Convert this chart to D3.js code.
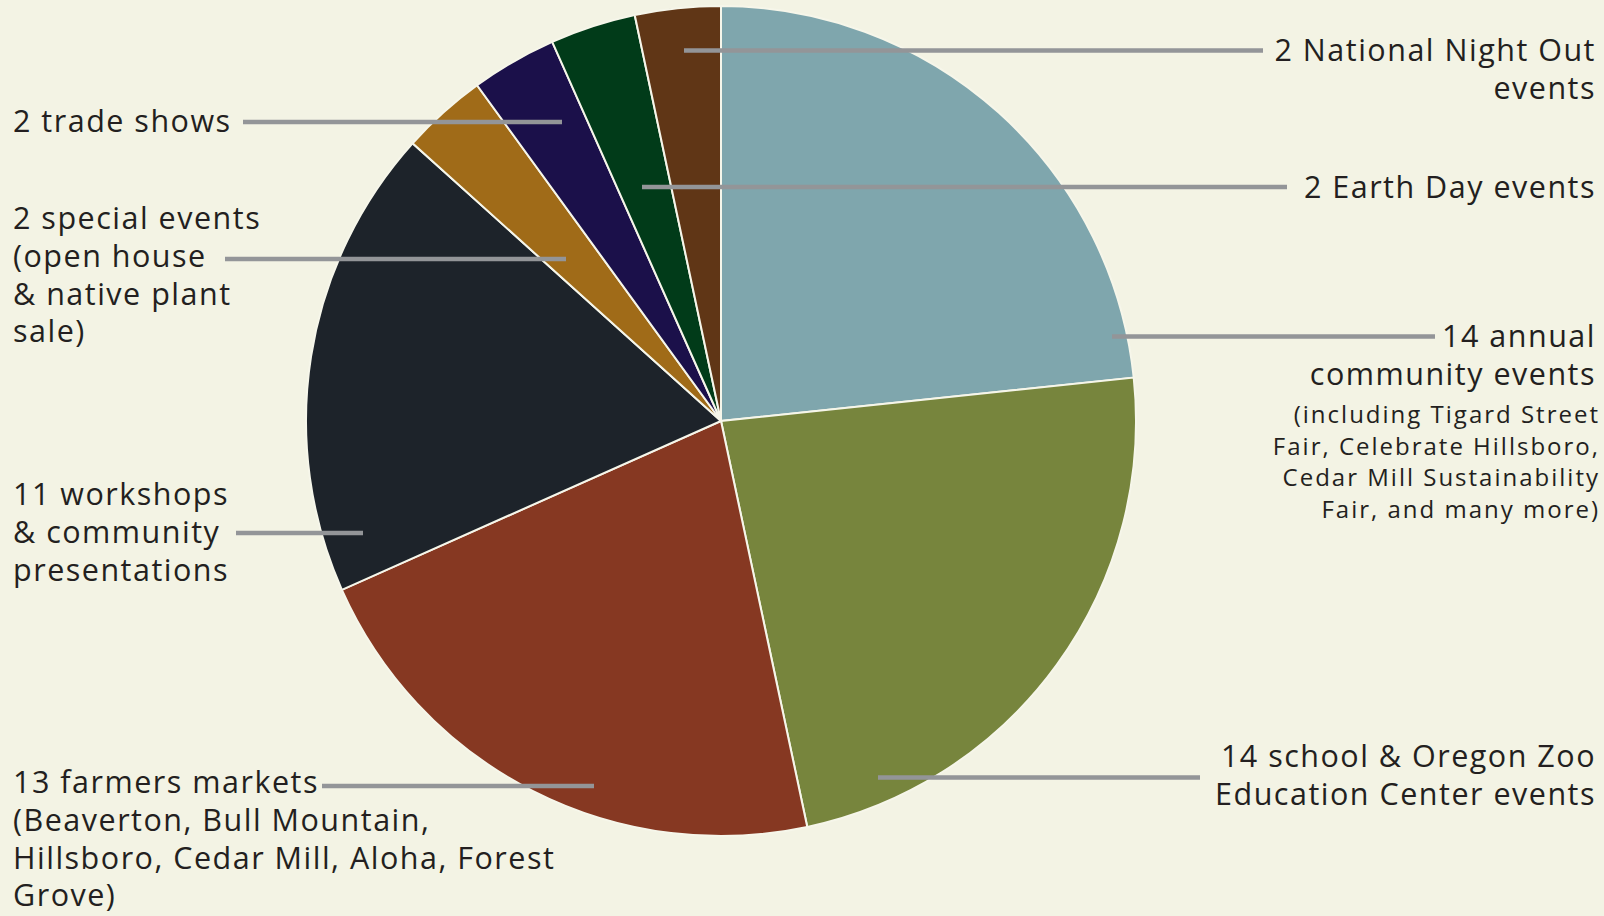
<!DOCTYPE html>
<html>
<head>
<meta charset="utf-8">
<script src="https://cdn.jsdelivr.net/npm/d3@7"></script>
<style>
  html, body { margin: 0; padding: 0; background: #f3f3e4; }
  svg { display: block; }
  .lbl { font-family: "Open Sans", sans-serif; fill: #231f20; }
</style>
</head>
<body>
<svg id="chart"></svg>
<script>
// Event categories, clockwise from 12 o'clock
var categories = ["annual", "school", "farmers", "workshops", "special", "trade", "earth", "night"];
var counts     = [14, 14, 13, 11, 2, 2, 2, 2];
var colors     = ["#7fa6ad", "#77853d", "#863822", "#1d232a", "#a06b18", "#1b104a", "#013b19", "#603616"];

// label text for each category (big lines, then small lines)
var bigText = {
  annual:    ["14 annual", "community events"],
  school:    ["14 school & Oregon Zoo", "Education Center events"],
  farmers:   ["13 farmers markets", "(Beaverton, Bull Mountain,", "Hillsboro, Cedar Mill, Aloha, Forest", "Grove)"],
  workshops: ["11 workshops", "& community", "presentations"],
  special:   ["2 special events", "(open house", "& native plant", "sale)"],
  trade:     ["2 trade shows"],
  earth:     ["2 Earth Day events"],
  night:     ["2 National Night Out", "events"]
};
var smallText = {
  annual: ["(including Tigard Street", "Fair, Celebrate Hillsboro,", "Cedar Mill Sustainability", "Fair, and many more)"]
};

var width = 1604, height = 916;
var cx = 721, cy = 421, radius = 415;

// where each label sits and where its leader line runs
var labelLayout = {
  night:     {side: "right", y: 61,  lineY: 50.5, x1: 684, x2: 1263},
  earth:     {side: "right", y: 197.5, lineY: 187, x1: 642, x2: 1287},
  annual:    {side: "right", y: 347, lineY: 336.5, x1: 1112, x2: 1435},
  school:    {side: "right", y: 767, lineY: 777.5, x1: 878, x2: 1200},
  trade:     {side: "left",  y: 132, lineY: 122, x1: 243, x2: 562},
  special:   {side: "left",  y: 229, lineY: 259, x1: 225, x2: 566},
  workshops: {side: "left",  y: 505, lineY: 533, x1: 236, x2: 363},
  farmers:   {side: "left",  y: 793, lineY: 786, x1: 322, x2: 594}
};

var svg = d3.select("#chart")
  .attr("width", width)
  .attr("height", height);

svg.append("rect")
  .attr("width", width)
  .attr("height", height)
  .attr("fill", "#f3f3e4");

var data = categories.map(function(c, i) {
  return {key: c, value: counts[i], color: colors[i]};
});

var pie = d3.pie()
  .sort(null)
  .value(function(d) { return d.value; });

var arc = d3.arc()
  .innerRadius(0)
  .outerRadius(radius);

var g = svg.append("g")
  .attr("transform", "translate(" + cx + "," + cy + ")");

g.selectAll("path.slice")
  .data(pie(data))
  .enter()
  .append("path")
    .attr("class", "slice")
    .attr("d", arc)
    .attr("fill", function(d) { return d.data.color; })
    .attr("stroke", "#f6f6ea")
    .attr("stroke-width", 2);

// leader lines
svg.selectAll("line.leader")
  .data(categories)
  .enter()
  .append("line")
    .attr("class", "leader")
    .attr("x1", function(c) { return labelLayout[c].x1; })
    .attr("x2", function(c) { return labelLayout[c].x2; })
    .attr("y1", function(c) { return labelLayout[c].lineY; })
    .attr("y2", function(c) { return labelLayout[c].lineY; })
    .attr("stroke", "#939598")
    .attr("stroke-width", 4.5);

// labels
var bigSize = 30.5, bigLead = 37.8;
var smallSize = 24, smallLead = 31.7;

categories.forEach(function(c) {
  var L = labelLayout[c];
  var right = L.side === "right";
  var t = svg.append("text")
    .attr("class", "lbl")
    .attr("text-anchor", right ? "end" : "start");
  bigText[c].forEach(function(s, i) {
    t.append("tspan")
      .attr("x", right ? 1596 : 13)
      .attr("y", L.y + i * bigLead)
      .attr("font-size", bigSize)
      .attr("letter-spacing", 1.5)
      .text(s);
  });
  if (smallText[c]) {
    var y0 = L.y + (bigText[c].length - 1) * bigLead;
    smallText[c].forEach(function(s, i) {
      t.append("tspan")
        .attr("x", 1600)
        .attr("y", y0 + 38 + i * smallLead)
        .attr("font-size", smallSize)
        .attr("letter-spacing", 2)
        .text(s);
    });
  }
});
</script>
</body>
</html>
